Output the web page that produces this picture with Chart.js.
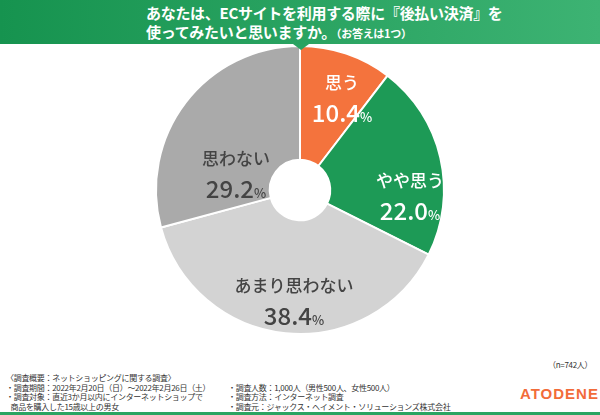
<!DOCTYPE html>
<html><head><meta charset="utf-8">
<script src="https://cdn.jsdelivr.net/npm/chart.js@4"></script>
<style>
body{margin:0;width:600px;height:415px;position:relative;background:#fff;font-family:"Noto Sans CJK JP",sans-serif;overflow:hidden}
#hdr{position:absolute;left:0;top:0;width:600px;height:44px;background:linear-gradient(90deg,#16934f,#3db373);color:#fff;font-weight:bold;font-size:15px;line-height:19px;padding:3px 0 0 146px;box-sizing:border-box;z-index:2;letter-spacing:-0.3px}
#hdr small{font-size:11px}
#tri{position:absolute;left:293px;top:44px;border-left:8px solid transparent;border-right:8px solid transparent;border-top:6px solid #2aa462;z-index:2}
#wrap{position:absolute;left:0;top:35px;width:600px;height:310px}
.ft{position:absolute;font-size:8px;line-height:9.5px;color:#333;white-space:nowrap;letter-spacing:-0.3px}
#logo{position:absolute;left:520px;top:385px;font:bold 15px "Liberation Sans",sans-serif;letter-spacing:1px;color:#f26c3a}
#line{position:absolute;left:0;top:412px;width:600px;height:3px;background:#2aa462}
</style></head><body>
<div id="wrap"><canvas id="c"></canvas></div>
<div id="hdr">あなたは、ECサイトを利用する際に『後払い決済』を<br>使ってみたいと思いますか。<small>（お答えは1つ）</small></div>
<div id="tri"></div>
<div class="ft" style="left:548px;top:360px">（n=742人）</div>
<div class="ft" style="left:6px;top:373px">〈調査概要：ネットショッピングに関する調査〉<br>・調査期間：2022年2月20日（日）～2022年2月26日（土）<br>・調査対象：直近3か月以内にインターネットショップで<br>&nbsp;&nbsp;&nbsp;商品を購入した15歳以上の男女</div>
<div class="ft" style="left:228px;top:382.5px">・調査人数：1,000人（男性500人、女性500人）<br>・調査方法：インターネット調査<br>・調査元：ジャックス・ヘイメント・ソリューションズ株式会社</div>
<div id="logo">ATODENE</div>
<div id="line"></div>
<script>
const labels = ['思う', 'やや思う', 'あまり思わない', '思わない'];
const values = [10.4, 22.0, 38.4, 29.2];
const colors = ['#f4733d', '#1d9a56', '#d3d3d3', '#aaaaaa'];
const textColors = ['#fff', '#fff', '#444', '#444'];
const labelOffsets = [[42, -93], [110, 5], [-6, 110], [-64, -17]];

const labelPlugin = {
  id: 'labels',
  afterDatasetsDraw(chart) {
    const ctx = chart.ctx;
    const arc = chart.getDatasetMeta(0).data[0];
    ctx.save();
    ctx.textBaseline = 'middle';
    values.forEach((v, i) => {
      const x = arc.x + labelOffsets[i][0], y = arc.y + labelOffsets[i][1];
      ctx.fillStyle = textColors[i];
      ctx.textAlign = 'center';
      ctx.font = '500 17px "Noto Sans CJK JP"';
      ctx.fillText(labels[i], x, y - 14);
      const num = v.toFixed(1);
      ctx.font = '500 24px "Noto Sans CJK JP"';
      const w1 = ctx.measureText(num).width;
      ctx.font = '500 13px "Noto Sans CJK JP"';
      const w2 = ctx.measureText('%').width;
      const sx = x - (w1 + w2) / 2;
      ctx.textAlign = 'left';
      ctx.font = '500 24px "Noto Sans CJK JP"';
      ctx.fillText(num, sx, y + 16);
      ctx.font = '500 13px "Noto Sans CJK JP"';
      ctx.fillText('%', sx + w1, y + 20);
    });
    ctx.restore();
  }
};

new Chart(document.getElementById('c'), {
  type: 'doughnut',
  data: { labels: labels, datasets: [{ data: values, backgroundColor: colors, borderColor: '#fff', borderWidth: 2 }] },
  options: {
    responsive: true, maintainAspectRatio: false, animation: false,
    cutout: '21%',
    layout: { padding: 10 },
    plugins: { legend: { display: false }, tooltip: { enabled: false } }
  },
  plugins: [labelPlugin]
});
</script>
</body></html>
